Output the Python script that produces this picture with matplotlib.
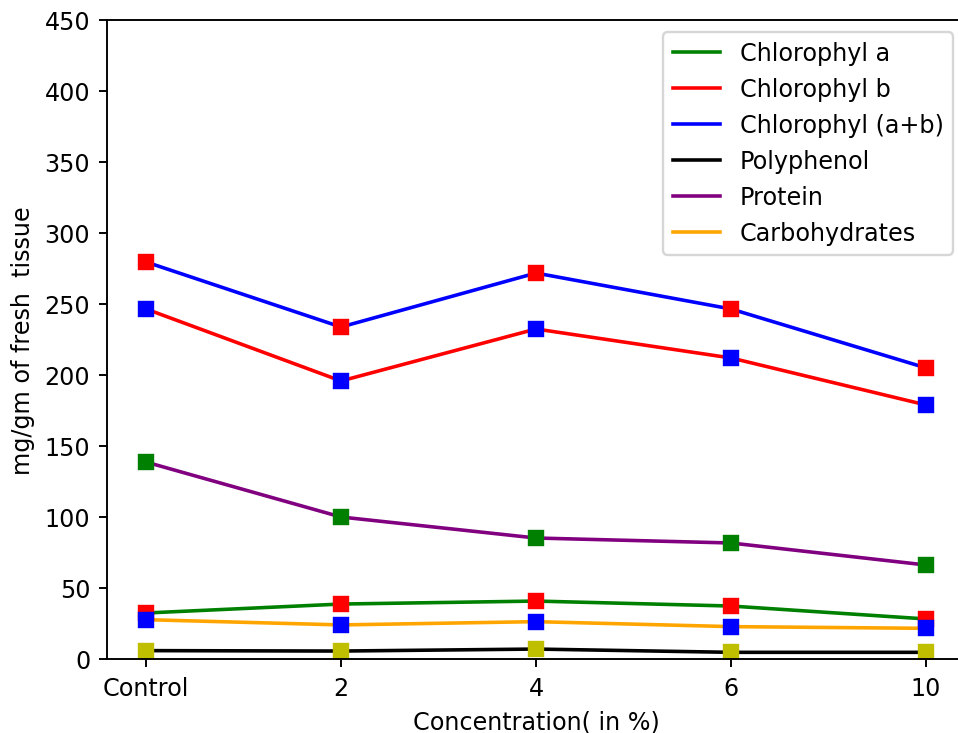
import matplotlib
matplotlib.use("Agg")
from matplotlib import pyplot as plt

conc = ["Control", "2", "4", "6", "10"]
chl_a = [32.4, 38.7, 40.8, 37.3, 28.2]
chl_b = [246.5, 195.8, 232.4, 212.0, 178.9]
chl_ab = [279.6, 233.8, 271.8, 246.5, 205.0]
polyphenol = [5.9, 5.6, 7.0, 4.7, 4.7]
protein = [138.7, 100.0, 85.2, 81.7, 66.2]
carbs = [27.7, 24.0, 26.3, 22.8, 21.6]

DPI = 172
fig = plt.figure(figsize=(958 / DPI, 734 / DPI), dpi=DPI)
# axes runs a little past the right edge, like the cropped original
ax = fig.add_axes([107 / 958, 74 / 734, 858 / 958, 639 / 734])

ax.plot(conc, chl_a, color="green", label="Chlorophyl a")
ax.plot(conc, chl_b, color="red", label="Chlorophyl b")
ax.plot(conc, chl_ab, color="blue", label="Chlorophyl (a+b)")
ax.plot(conc, polyphenol, color="black", label="Polyphenol")
ax.plot(conc, protein, color="purple", label="Protein")
ax.plot(conc, carbs, color="orange", label="Carbohydrates")

ax.plot(conc, chl_a, "rs")
ax.plot(conc, chl_b, "bs")
ax.plot(conc, chl_ab, "rs")
ax.plot(conc, polyphenol, "ys")
ax.plot(conc, protein, "gs")
ax.plot(conc, carbs, "bs")

ax.set_ylim(0, 450)
ax.spines["right"].set_visible(False)
ax.set_xlabel("Concentration( in %)")
ax.set_ylabel("mg/gm of fresh  tissue")
ax.legend(loc="upper right")

fig.savefig("out.png", dpi=DPI)
